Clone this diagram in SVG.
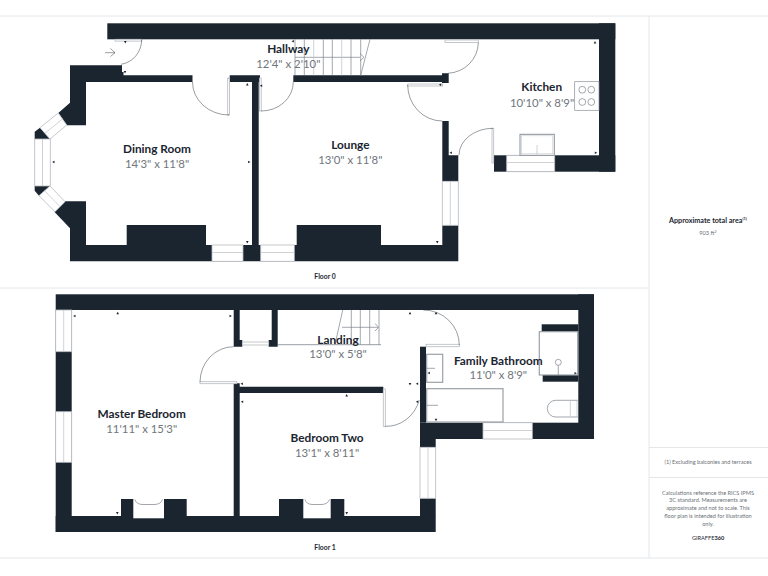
<svg xmlns="http://www.w3.org/2000/svg" xmlns:xlink="http://www.w3.org/1999/xlink" width="768" height="576" viewBox="0 0 768 576">
<style>
text{font-family:"Lato","Noto Sans",sans-serif;text-anchor:middle}
.w{fill:#1b2530;stroke:none}
.f{fill:none;stroke:#e4e6e8;stroke-width:1}
.g{fill:#fff;stroke:#b5babf;stroke-width:.8}
.l{fill:none;stroke:#1b2530;stroke-width:.6;stroke-opacity:.75}
.s{fill:none;stroke:#7c838a;stroke-width:.7}
.lt{fill:none;stroke:#c4c8cc;stroke-width:.8}
.n{font-size:11.8px;font-weight:700;fill:#1b2530}
.d{font-size:11.4px;fill:#70767c}
.c{font-size:6.8px;font-weight:700;fill:#1b2530}
.p{font-size:5.6px;fill:#6b7177}
.a{font-size:7.2px;font-weight:700;fill:#1b2530}
.up{font-size:4px}
.tk{fill:#1b2530}
</style>
<defs>
<path id="k" d="M-1.3 -1.2H1.3L0 1.2Z"/>
</defs>
<rect width="768" height="576" fill="#fff"/>
<g id="frame">
<path class="f" d="M0 16H768M0 288H649M0 558H768M649 16V558M649 447.5H768M649 477.5H768"/>
</g>

<g id="floor0-walls">
<rect class="w" x="107.3" y="23.3" width="508" height="16"/>
<rect class="w" x="599" y="23.3" width="16.3" height="148.4"/>
<rect class="w" x="494" y="155.3" width="121.3" height="16.4"/>
<path class="w" d="M70 65.3H122V72H123.5V75.3H192.5V82H86V125.3H66.7L58.3 113L70 102.7Z"/>
<path class="w" d="M229.7 75.3H260V82H258.7V245H252V82H229.7Z"/>
<path class="w" d="M293.3 75.3H442V73.3H448.7V83H442V82H293.3Z"/>
<path class="w" d="M442.3 121H448.7V155.3H458.3V181.3H442.3Z"/>
<path class="w" d="M442.3 225.3H458.3V261.3H70V228.3L54.3 211.7L65 201.2H86V245H126.7V225H206V245H296.7V225H381V245H442.3Z"/>
<path class="w" d="M34.7 131.7L40 127.7L50 139H34.7Z"/>
<path class="w" d="M34.7 186H50L39 195.7L34.7 190.7Z"/>
<rect class="g" x="212" y="245" width="31" height="16.3"/>
<path class="lt" d="M212 252.5H243"/>
<rect class="g" x="260.7" y="245" width="33.6" height="16.3"/>
<path class="lt" d="M260.7 252.5H294.3"/>
<rect class="g" x="506.7" y="155.3" width="48" height="16.4"/>
<path class="lt" d="M506.7 162.5H554.7"/>
<rect class="g" x="442.3" y="181.3" width="16" height="44"/>
<path class="lt" d="M450.3 181.3V225.3"/>
<rect class="g" x="34.7" y="139" width="15.6" height="47"/>
<path class="lt" d="M42.5 139V186"/>
<path class="g" d="M58.3 113L66.7 125L50 139L40 127.7Z"/>
<path class="lt" d="M45 133.3L62.5 119"/>
<path class="g" d="M50 186L65 201.7L55 211.7L39 195.7Z"/>
<path class="lt" d="M44.5 190.7L60 206.7"/>
</g>
<g id="floor0-fixtures">
<rect class="g" x="115" y="39.3" width="26.7" height="1.8"/>
<path class="l" d="M141.7 39.3A24 25 0 0 1 121 64.3"/>
<path class="l" d="M105 52.7H115M110.5 48.5L115 52.7L110.5 56.5"/>
<rect class="g" x="227.7" y="78" width="1.9" height="37"/>
<path class="l" d="M229 115A36.5 33 0 0 1 192.5 82"/>
<rect class="g" x="259.5" y="78" width="1.7" height="33"/>
<path class="l" d="M261 111A32 29 0 0 0 293.3 82"/>
<path class="s" d="M295 39.3V75.3M304.3 39.3V75.3M323.3 39.3V75.3M332.3 39.3V75.3M351 39.3V75.3M360.7 39.3V75.3M370 39.3L360.7 75.3M295 57.3H360M360 53.5L364 57.3L360 61"/>
<path class="lt" d="M313.7 39.3V75.3M341.7 39.3V75.3"/>
<rect class="g" x="445" y="40" width="33.3" height="2.5"/>
<path class="l" d="M478.3 42.5A32 31 0 0 1 448 73.3"/>
<rect class="g" x="407.7" y="84" width="35" height="2"/>
<path class="l" d="M407.7 85A34.6 36 0 0 0 442.3 121"/>
<rect class="g" x="492" y="128.3" width="1.7" height="34.7"/>
<path class="l" d="M493 128.3A34 27 0 0 0 459 155"/>
<rect x="520" y="134.3" width="34.3" height="21" fill="#fff" stroke="#8a9096" stroke-width="1"/>
<rect x="521.5" y="135.8" width="31.3" height="18" fill="#fff" stroke="#c4c8cc" stroke-width=".6"/>
<path class="lt" d="M537 145V155.3"/>
<rect x="574.7" y="81.7" width="24.3" height="28.6" fill="#fff" stroke="#8a9096" stroke-width=".7"/>
<g class="s"><circle cx="582.3" cy="89.7" r="3.4"/><circle cx="591.3" cy="89.7" r="3.4"/><circle cx="582.3" cy="102" r="3.4"/><circle cx="591.3" cy="102" r="3.4"/></g>
</g>

<g id="floor1-walls">
<rect class="w" x="55.7" y="294.3" width="538.3" height="15.7"/>
<rect class="w" x="578.3" y="294.3" width="15.7" height="144.7"/>
<rect class="w" x="420" y="422.7" width="174" height="16.3"/>
<rect class="w" x="55.7" y="310" width="16" height="222"/>
<rect class="w" x="55.7" y="516" width="380" height="16"/>
<rect class="w" x="420" y="346.7" width="6" height="76"/>
<rect class="w" x="420" y="439" width="15.7" height="8.3"/>
<rect class="w" x="420" y="498.3" width="15.7" height="18"/>
<path class="w" d="M233.7 310H239.7V340H242.3V346.7H233.7Z"/>
<path class="w" d="M271.7 310H277.7V346.7H268.7V340H271.7Z"/>
<path class="w" d="M233.7 383.3H239.7V386.7H383.3V393H239.7V516H233.7Z"/>
<rect class="w" x="121" y="499" width="65.7" height="17"/>
<rect class="w" x="279" y="499" width="65.3" height="17"/>
<rect class="w" x="541.7" y="324.3" width="36.6" height="7.4"/>
<rect class="w" x="542.7" y="375" width="35.6" height="6.7"/>
<rect class="g" x="55.7" y="310" width="16" height="41.7"/>
<path class="lt" d="M63.7 310V351.7"/>
<rect class="g" x="55.7" y="411.7" width="16" height="50.6"/>
<path class="lt" d="M63.7 411.7V462.3"/>
<rect class="g" x="483" y="422.7" width="49.3" height="16.3"/>
<path class="lt" d="M483 430.5H532.3"/>
<rect class="g" x="420" y="447.3" width="15.7" height="51"/>
<path class="lt" d="M428 447.3V498.3"/>
</g>
<g id="floor1-fixtures">
<rect x="133.3" y="499" width="30.7" height="19.3" fill="#fff"/>
<path class="s" d="M135 499.5Q136 504 142 504.5H155Q161 504 162.5 499.5"/>
<rect x="303.3" y="499" width="27.4" height="19.3" fill="#fff"/>
<path class="s" d="M305 499.5Q306 504 312 504.5H322Q328 504 329.5 499.5"/>
<rect class="g" x="242.3" y="342" width="26.4" height="3"/>
<path class="l" d="M277.7 344.7H381"/>
<rect class="g" x="200" y="381.7" width="36.7" height="2"/>
<path class="l" d="M200 382A33.7 35.5 0 0 1 233.7 346.7"/>
<rect class="g" x="383.3" y="389" width="2" height="37.3"/>
<path class="l" d="M385 426.3A34.5 37 0 0 0 419.3 400"/>
<rect class="g" x="426" y="344.3" width="33.3" height="2.4"/>
<path class="l" d="M459.3 345A36 35 0 0 0 423.3 310"/>
<path class="s" d="M351.3 310V344.7M360.3 310V344.7M369.7 310V344.7M379 310V344.7M342.7 310L335 344.7M342 327.3H378M375 323.5L378.5 327.3L375 331"/>
<rect x="426.7" y="354.3" width="16" height="28" fill="#fff" stroke="#9aa0a6" stroke-width="1.2"/>
<path class="s" d="M426.7 368.3H435"/>
<rect x="426.7" y="388.7" width="76.3" height="33.3" fill="#fff" stroke="#9aa0a6" stroke-width="1.2"/>
<path class="s" d="M426.7 405.3H438"/>
<rect x="539.3" y="331.7" width="38.4" height="43.3" fill="#fff" stroke="#9aa0a6" stroke-width="1.2"/>
<circle class="s" cx="558.3" cy="362.3" r="3"/>
<path class="s" d="M558.3 365.3V375"/>
<path class="s" d="M578.3 400.3H555.7A8.3 8.3 0 0 0 555.7 417H578.3"/>
<path class="lt" d="M570.3 400.3V417M577 400.3V417" stroke-width="1"/>
</g>

<g id="ticks" class="tk">
<use href="#k" transform="translate(125.3 42.3)"/><use href="#k" transform="translate(125 72.3)"/><use href="#k" transform="translate(247.3 84.3) rotate(180)"/><use href="#k" transform="translate(53.3 162) rotate(90)"/><use href="#k" transform="translate(249.3 162) rotate(-90)"/><use href="#k" transform="translate(247.3 242.3)"/><use href="#k" transform="translate(261 85.7) rotate(90)"/><use href="#k" transform="translate(292.7 41.3) rotate(90)"/><use href="#k" transform="translate(595 42.3) rotate(180)"/><use href="#k" transform="translate(440 84.7) rotate(90)"/><use href="#k" transform="translate(450.7 152.7) rotate(90)"/><use href="#k" transform="translate(596 152.7) rotate(-90)"/><use href="#k" transform="translate(437.3 242.3)"/>
<use href="#k" transform="translate(74.3 316) rotate(90)"/><use href="#k" transform="translate(117.7 313) rotate(180)"/><use href="#k" transform="translate(230.7 316) rotate(-90)"/><use href="#k" transform="translate(241.7 383.7) rotate(90)"/><use href="#k" transform="translate(242 401.7) rotate(90)"/><use href="#k" transform="translate(117.3 513.3)"/><use href="#k" transform="translate(410 313) rotate(180)"/><use href="#k" transform="translate(436 313) rotate(180)"/><use href="#k" transform="translate(428.7 373) rotate(90)"/><use href="#k" transform="translate(410 384.3)"/><use href="#k" transform="translate(417 383.7) rotate(90)"/><use href="#k" transform="translate(417 401.7) rotate(90)"/><use href="#k" transform="translate(346.7 395.3) rotate(180)"/><use href="#k" transform="translate(436 420)"/><use href="#k" transform="translate(575.7 373.3) rotate(-90)"/><use href="#k" transform="translate(346.7 513.3)"/>
</g>

<g id="hallway"><text class="n" x="288.3" y="53">Hallway</text><text class="d" x="288.3" y="68">12'4" x 2'10"</text></g>
<g id="dining-room"><text class="n" x="157" y="153">Dining Room</text><text class="d" x="157" y="168">14'3" x 11'8"</text></g>
<g id="lounge"><text class="n" x="350.3" y="148.7">Lounge</text><text class="d" x="350.3" y="164">13'0" x 11'8"</text></g>
<g id="kitchen"><text class="n" x="541.7" y="91.3">Kitchen</text><text class="d" x="542" y="106.7">10'10" x 8'9"</text></g>
<g id="master-bedroom"><text class="n" x="141.7" y="418">Master Bedroom</text><text class="d" x="141.7" y="433">11'11" x 15'3"</text></g>
<g id="bedroom-two"><text class="n" x="327" y="441.7">Bedroom Two</text><text class="d" x="327" y="456.7">13'1" x 8'11"</text></g>
<g id="landing"><text class="n" x="338" y="344">Landing</text><text class="d" x="338" y="358">13'0" x 5'8"</text></g>
<g id="family-bathroom"><text class="n" x="498.3" y="365">Family Bathroom</text><text class="d" x="498.3" y="379">11'0" x 8'9"</text></g>
<g id="captions">
<text class="c" x="325" y="279.3">Floor 0</text>
<text class="c" x="325" y="550">Floor 1</text>
</g>
<g id="sidebar">
<text class="a" x="708" y="222.5">Approximate total area<tspan class="up" dy="-3">(1)</tspan></text>
<text class="p" x="708" y="235">903 ft<tspan class="up" dy="-2.5">2</tspan></text>
<text class="p" x="708" y="464">(1) Excluding balconies and terraces</text>
<text class="p" x="708" y="494.5">Calculations reference the RICS IPMS</text>
<text class="p" x="708" y="502.3">3C standard. Measurements are</text>
<text class="p" x="708" y="510">approximate and not to scale. This</text>
<text class="p" x="708" y="518">floor plan is intended for illustration</text>
<text class="p" x="708" y="526">only.</text>
<text class="p" x="708" y="540" style="fill:#1b2530">GIRAFFE<tspan font-weight="700">360</tspan></text>
</g>
</svg>
